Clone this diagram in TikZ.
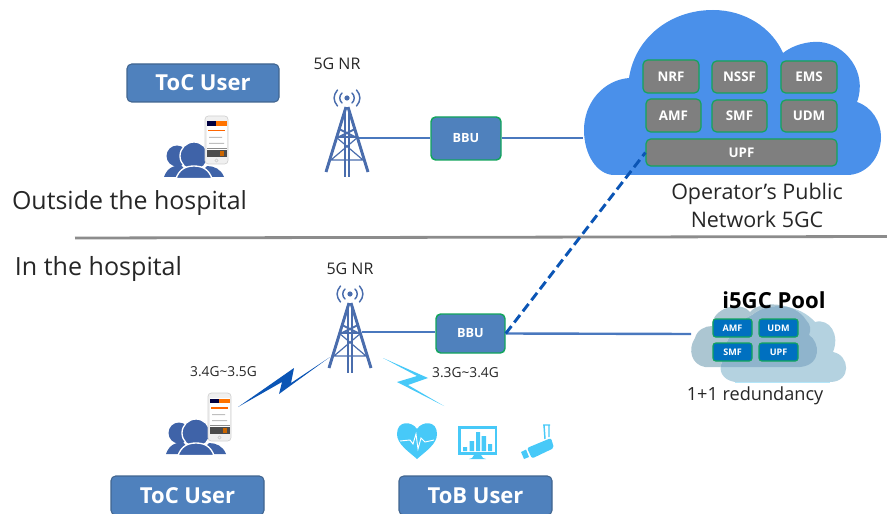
\documentclass[tikz,border=0pt]{standalone}
\usepackage{fontspec}
\setmainfont{Open Sans}
\usetikzlibrary{calc}
\definecolor{ublue}{HTML}{4F81BD}
\definecolor{uedge}{HTML}{41658F}
\definecolor{twr}{HTML}{4A6DAD}
\definecolor{linkb}{HTML}{4A78BE}
\definecolor{gbord}{HTML}{12A55C}
\definecolor{cloudb}{HTML}{4A90EA}
\definecolor{gbox}{HTML}{7F7F7F}
\definecolor{cya}{HTML}{47C9F8}
\definecolor{pool}{HTML}{0070C0}
\definecolor{dkb}{HTML}{0B55B5}
\definecolor{usr}{HTML}{3F63A8}
\definecolor{pclA}{HTML}{B4D2E0}
\definecolor{pclB}{HTML}{8FB4CC}
\tikzset{
 userbox/.style={draw=uedge,line width=0.8pt,fill=ublue,rounded corners=3.5pt,text=white,font=\fontsize{16.5}{18}\selectfont\bfseries,inner sep=0pt},
 bbubox/.style={draw=gbord,line width=1.1pt,fill=ublue,rounded corners=3.5pt,text=white,font=\fontsize{9.5}{11}\selectfont\bfseries,inner sep=0pt},
 nfbox/.style={draw=gbord,line width=0.9pt,fill=gbox,rounded corners=3.5pt,text=white,font=\fontsize{10}{11}\selectfont\bfseries,inner sep=0pt},
 poolbox/.style={draw=gbord,line width=0.8pt,fill=pool,rounded corners=2pt,text=white,font=\fontsize{6.8}{8}\selectfont\bfseries,inner sep=0pt},
 lbl/.style={inner sep=0pt,text=black!85},
 link/.style={draw=linkb,line width=1.8pt},
}
\newcommand{\pxbox}[7][]{\node[#2,#1,minimum width=#5*0.75pt-#3*0.75pt,minimum height=#6*0.75pt-#4*0.75pt] (#7) at ({(#3+#5)/2},{(#4+#6)/2})}
\newcommand{\towerat}[4]{% x, y of signal centre, name, link offset
\begin{scope}[shift={(#1,#2)}]
 \fill[twr] (0,0) circle (2.6);
 \draw[twr,line width=1.1pt,line cap=round] (-5,-5) .. controls (-8,-2) and (-8,2) .. (-5,5) (5,-5) .. controls (8,-2) and (8,2) .. (5,5);
 \draw[twr,line width=1.1pt,line cap=round] (-9.5,-8) .. controls (-14,-3) and (-14,3) .. (-9.5,8) (9.5,-8) .. controls (14,-3) and (14,3) .. (9.5,8);
 \draw[twr,line width=2.2pt] (-21,74) -- (-1,9) (21,74) -- (1,9);
 \draw[twr,line width=1.4pt] (-2.2,12) -- (-2.2,79) (2.2,12) -- (2.2,79);
 \draw[twr,line width=1.4pt] (-8,31) -- (8,39) (8,31) -- (-8,39) (-11,39) -- (11,39);
 \draw[twr,line width=0.9pt] (-11,39) -- (16,62) (11,39) -- (-16,62) (-16,62) -- (16,62);
 \coordinate (#3) at (12,#4);
\end{scope}}
\newcommand{\usersat}[2]{%
\begin{scope}[shift={(#1,#2)}]
 \fill[usr] (-17,0) circle (10.5);
 \fill[usr] (-30,21) .. controls (-27,12) and (-20,9) .. (-13,9) -- (-3,21) -- cycle;
 \fill[usr] (30,21) .. controls (27,13) and (20,10) .. (13,10) -- (3,21) -- cycle;
 \fill[usr,draw=white,line width=1pt] (0,0) circle (14);
 \fill[usr,draw=white,line width=1pt] (-18,22.5) .. controls (-15,14) and (-9,10) .. (0,10) .. controls (9,10) and (15,14) .. (18,22.5) -- cycle;
\end{scope}}
\newcommand{\phoneat}[2]{%
\begin{scope}[shift={(#1,#2)}]
 \fill[black!6,draw=black!18,line width=0.5pt,rounded corners=2.5pt] (0,0) rectangle (23,48);
 \fill[white] (1.5,5) rectangle (21.5,41);
 \fill[black!75!blue] (1.5,5.5) rectangle (11,10);
 \fill[orange!90!red] (11,5.5) rectangle (21.5,10);
 \fill[orange!80!red] (3,14) rectangle (20,15.5);
 \fill[black!25] (4,21) rectangle (17,22) (4,27) rectangle (19,28);
 \fill[black!70] (1.5,34) rectangle (21.5,41);
 \fill[orange!80!black] (15,35) rectangle (19,40);
 \fill[black!45] (1.5,32) rectangle (21.5,33);
 \draw[black!25,line width=0.3pt] (11.5,44.5) circle (1.7);
\end{scope}}
\begin{document}
\begin{tikzpicture}[x=0.75pt,y=-0.75pt]
\useasboundingbox (0,0) rectangle (887,513);
\draw[black!45,line width=2.1pt] (75,238) -- (887,236.5);
\fill[cloudb] (613,175) .. controls (597,174) and (584,155) .. (584,130)
 .. controls (584,102) and (604,80) .. (629,78)
 .. controls (635,38) and (670,10) .. (713,10)
 .. controls (745,10) and (772,28) .. (783,53)
 .. controls (793,45) and (808,41) .. (820,42)
 .. controls (845,44) and (868,72) .. (857,102)
 .. controls (872,107) and (881,122) .. (881,137)
 .. controls (881,158) and (866,175) .. (847,175) -- cycle;
\pxbox{nfbox}{643}{60}{699}{93}{nrf} {NRF};
\pxbox{nfbox}{712}{61}{767}{93}{nssf} {NSSF};
\pxbox{nfbox}{781}{61}{837}{93}{ems} {EMS};
\pxbox{nfbox}{646}{99}{701}{132}{amf} {AMF};
\pxbox{nfbox}{712}{100}{767}{132}{smf} {SMF};
\pxbox{nfbox}{781}{100}{837}{132}{udm} {UDM};
\pxbox{nfbox}{646}{139}{837}{166}{upf} {UPF};
\coordinate (cloudleft) at (583,138);
\node[lbl,align=center,font=\fontsize{16.1}{21}\selectfont] (oper) at (757,205) {Operator’s Public\\Network 5GC};
\pxbox{userbox}{127}{64}{279}{102}{tocA} {ToC User};
\usersat{194}{156}
\phoneat{205}{116}
\node[lbl,font=\fontsize{12}{14}\selectfont] (nrA) at (337,64) {5G NR};
\towerat{347}{98}{twA}{40}
\pxbox{bbubox}{431}{117}{501}{160}{bbuA} {BBU};
\draw[link] (twA) -- (twA -| bbuA.west);
\draw[link] (bbuA.east |- twA) -- (twA -| cloudleft);
\node[lbl,font=\fontsize{18.7}{22}\selectfont] (out) at (129.5,203) {Outside the hospital};
\node[lbl,font=\fontsize{18.8}{22}\selectfont] (inh) at (98.5,269) {In the hospital};
\node[lbl,font=\fontsize{12}{14}\selectfont] (nrB) at (350,268.5) {5G NR};
\towerat{350}{294}{twB}{38}
\pxbox{bbubox}{436}{314}{505}{353}{bbuB} {BBU};
\draw[link] (twB) -- (twB -| bbuB.west);
% pool clouds
\fill[pclA] (735,382) .. controls (722,380) and (718,370) .. (722,362)
 .. controls (722,345) and (735,322) .. (752,315)
 .. controls (770,300) and (800,305) .. (815,322)
 .. controls (830,318) and (840,335) .. (833,352)
 .. controls (850,355) and (852,382) .. (830,382) -- cycle;
\draw[cyan!40,line width=0.5pt,opacity=0.7] (735,382) -- (830,382);
\begin{scope}
\clip (735,382) .. controls (722,380) and (718,370) .. (722,362)
 .. controls (722,345) and (735,322) .. (752,315)
 .. controls (770,300) and (800,305) .. (815,322)
 .. controls (830,318) and (840,335) .. (833,352)
 .. controls (850,355) and (852,382) .. (830,382) -- cycle;
\fill[pclB] (705,367) .. controls (692,365) and (687,350) .. (695,338)
 .. controls (697,330) and (705,326) .. (712,326)
 .. controls (712,308) and (740,300) .. (750,312)
 .. controls (760,300) and (795,302) .. (806,320)
 .. controls (811,325) and (811,330) .. (809,335)
 .. controls (820,342) and (822,365) .. (800,367) -- cycle;
\end{scope}
\begin{scope}[even odd rule]
\clip (680,295) rectangle (860,390) (735,382) .. controls (722,380) and (718,370) .. (722,362)
 .. controls (722,345) and (735,322) .. (752,315)
 .. controls (770,300) and (800,305) .. (815,322)
 .. controls (830,318) and (840,335) .. (833,352)
 .. controls (850,355) and (852,382) .. (830,382) -- cycle;
\fill[pclA!85!gray] (705,367) .. controls (692,365) and (687,350) .. (695,338)
 .. controls (697,330) and (705,326) .. (712,326)
 .. controls (712,308) and (740,300) .. (750,312)
 .. controls (760,300) and (795,302) .. (806,320)
 .. controls (811,325) and (811,330) .. (809,335)
 .. controls (820,342) and (822,365) .. (800,367) -- cycle;
\end{scope}
\coordinate (poolleft) at (691,334);
\draw[link] (bbuB.east) -- (poolleft);
\pxbox{poolbox}{713}{319}{752}{337}{pamf} {AMF};
\pxbox{poolbox}{759}{319}{798}{337}{pudm} {UDM};
\pxbox{poolbox}{713}{343}{752}{361}{psmf} {SMF};
\pxbox{poolbox}{759}{343}{798}{361}{pupf} {UPF};
\node[inner sep=0pt,font=\fontsize{16.6}{18}\selectfont\bfseries] (ipool) at (774,300) {i5GC Pool};
\node[lbl,font=\fontsize{13.6}{15}\selectfont] (red) at (755,396) {1+1 redundancy};
\draw[draw=dkb,line width=2.2pt,dash pattern=on 7pt off 3.5pt] (bbuB.east) -- (upf.west);
\fill[dkb] (238,407) -- (294,368) -- (291,383) -- (330,357) -- (279,394) -- (282,382) -- cycle;
\fill[cya] (383,358) -- (428,378) -- (408,385) -- (444,406) -- (397,382) -- (417,376) -- cycle;
\node[lbl,font=\fontsize{10.3}{12}\selectfont] (fa) at (223.5,372) {3.4G\textasciitilde 3.5G};
\node[lbl,font=\fontsize{10.3}{12}\selectfont] (fb) at (465.5,373) {3.3G\textasciitilde 3.4G};
\usersat{196}{433}
\phoneat{208}{393}
\pxbox{userbox}{111}{476}{264}{515}{tocB} {ToC User};
\pxbox{userbox}{399}{476}{552}{515}{tob} {ToB User};
\fill[cya] (417,459) .. controls (408,451) and (397,444) .. (397,434) .. controls (397,420) and (412,421) .. (417,429) .. controls (422,421) and (437,420) .. (437,434) .. controls (437,444) and (426,451) .. (417,459) -- cycle;
\draw[white,line width=0.7pt] (400,441) -- (410,440) -- (413,444) -- (416,434) -- (418,449) -- (421,438) -- (425,442) -- (434,440);
\fill[cya] (458,426) rectangle (497,455);
\fill[white] (460.5,429) rectangle (494.5,452);
\fill[cya] (463,447) rectangle (467,451) (469.5,441) rectangle (474,451) (476,432) rectangle (480,451) (481.5,436) rectangle (486,451) (488,444) rectangle (492,451);
\fill[cya] (474,455) -- (481,455) -- (483,458) -- (486,459) -- (469,459) -- (472,458) -- cycle;
\fill[cya,rounded corners=1.5pt] (527,448) -- (551,438) -- (554,448) -- (532,458.5) -- cycle;
\fill[cya] (521,452) -- (526,449.5) -- (529,457) -- (524,459) -- cycle;
\draw[cya,line width=1.1pt] (543,425) -- (550,425) (544,425) -- (545,439) (549,425) -- (549,437);
\end{tikzpicture}
\end{document}
